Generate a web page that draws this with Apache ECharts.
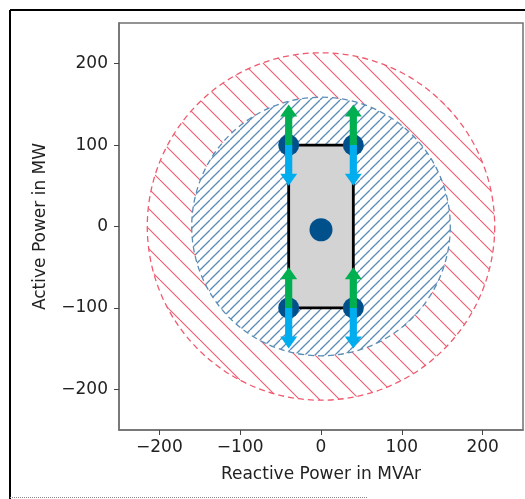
<!DOCTYPE html>
<html>
<head>
<meta charset="utf-8">
<script src="https://cdn.jsdelivr.net/npm/echarts@6/dist/echarts.min.js"></script>
<style>
  html, body { margin: 0; padding: 0; background: #fff; }
  #chart { width: 525px; height: 499px; }
</style>
</head>
<body>
<div id="chart"></div>
<script>
// axis ticks
const xTicks = [-200, -100, 0, 100, 200]
const yTicks = [-200, -100, 0, 100, 200]

// capability circles (radius in MVA)
const circleNames = ['outer', 'inner']
const circleRadii = [215, 160]

// operating box corners
const boxQ = [-40, 40, 40, -40]
const boxP = [-100, -100, 100, 100]

// flexibility points
const pointQ = [-40, 40, -40, 40]
const pointP = [100, 100, -100, -100]
const centerPoint = [0, -4]

// arrows: start Q, start P, delta P
const arrowUp = [[-40, 100, 50], [40, 100, 50], [-40, -100, 50], [40, -100, 50]]
const arrowDown = [[-40, 100, -50], [40, 100, -50], [-40, -100, -50], [40, -100, -50]]

function hatch (size, color, lw, dir) {
  let c = document.createElement('canvas')
  c.width = size
  c.height = size
  let ctx = c.getContext('2d')
  ctx.fillStyle = '#fff'
  ctx.fillRect(0, 0, size, size)
  ctx.strokeStyle = color
  ctx.lineWidth = lw
  for (let k of [-size, 0, size]) {
    ctx.beginPath()
    if (dir === 'back') {
      ctx.moveTo(k, 0)
      ctx.lineTo(k + size, size)
    } else {
      ctx.moveTo(k, size)
      ctx.lineTo(k + size, 0)
    }
    ctx.stroke()
  }
  return c
}

const circleStyles = [
  {stroke: '#ef5a6e', pattern: hatch(20, '#ef5a6e', 1.1, 'back')},
  {stroke: '#5b8cb6', pattern: hatch(10, '#5b8cb6', 1.3, 'fwd')}
]

function renderCircle (params, api) {
  let i = params.dataIndex
  let c = api.coord([0, 0])
  let r = api.size([circleRadii[i], 0])[0]
  return {
    type: 'circle',
    shape: {cx: c[0], cy: c[1], r: r},
    style: {
      fill: {image: circleStyles[i].pattern, repeat: 'repeat'},
      stroke: circleStyles[i].stroke,
      lineWidth: 1.3,
      lineDash: [6, 4]
    }
  }
}

function renderBox (params, api) {
  let pts = []
  for (let i = 0; i < boxQ.length; i++) {
    pts.push(api.coord([boxQ[i], boxP[i]]))
  }
  return {
    type: 'polygon',
    shape: {points: pts},
    style: {fill: '#d3d3d3', stroke: '#000', lineWidth: 2.8}
  }
}

function arrowRenderer (color) {
  return function (params, api) {
    let s = api.coord([api.value(0), api.value(1)])
    let e = api.coord([api.value(0), api.value(1) + api.value(2)])
    let dir = e[1] < s[1] ? -1 : 1
    let x = s[0]
    let hw = 3.6
    let headW = 8.5
    let headL = 12
    let base = e[1] - dir * headL
    return {
      type: 'polygon',
      shape: {
        points: [
          [x - hw, s[1]], [x - hw, base], [x - headW, base], [x, e[1]],
          [x + headW, base], [x + hw, base], [x + hw, s[1]]
        ]
      },
      style: {fill: color}
    }
  }
}

function fmt (v) {
  return String(v).replace('-', '\u2212')
}

let chart = echarts.init(document.getElementById('chart'))
let font = 'DejaVu Sans'
let option = {
  animation: false,
  textStyle: {fontFamily: font},
  grid: {
    left: 119, top: 23, right: 2, bottom: 69,
    show: true, borderColor: '#707070', borderWidth: 1.5
  },
  xAxis: {
    type: 'value',
    min: -250,
    max: 250,
    name: 'Reactive Power in MVAr',
    nameLocation: 'middle',
    nameGap: 36,
    nameTextStyle: {fontSize: 17, color: '#222', fontFamily: font},
    splitLine: {show: false},
    axisLine: {onZero: false, lineStyle: {color: '#707070', width: 1.5}},
    axisTick: {customValues: xTicks, length: 5, lineStyle: {color: '#444'}},
    axisLabel: {customValues: xTicks, formatter: fmt, fontSize: 17, color: '#222', margin: 9, fontFamily: font}
  },
  yAxis: {
    type: 'value',
    min: -250,
    max: 250,
    name: 'Active Power in MW',
    nameLocation: 'middle',
    nameGap: 70,
    nameTextStyle: {fontSize: 17, color: '#222', fontFamily: font},
    splitLine: {show: false},
    axisLine: {onZero: false, lineStyle: {color: '#707070', width: 1.5}},
    axisTick: {customValues: yTicks, length: 5, lineStyle: {color: '#444'}},
    axisLabel: {customValues: yTicks, formatter: fmt, fontSize: 17, color: '#222', margin: 11, fontFamily: font}
  },
  graphic: [
    {type: 'line', shape: {x1: 10, y1: 10, x2: 530, y2: 10}, style: {stroke: '#000', lineWidth: 2}},
    {type: 'line', shape: {x1: 10, y1: 10, x2: 10, y2: 499}, style: {stroke: '#000', lineWidth: 2}},
    {type: 'line', shape: {x1: 10, y1: 497.5, x2: 368, y2: 497.5}, style: {stroke: '#888', lineWidth: 1, lineDash: [1, 1]}}
  ],
  series: [
    {
      type: 'custom',
      name: 'circles',
      renderItem: renderCircle,
      data: circleNames.map((n, i) => [0, 0, circleRadii[i]]),
      clip: true,
      z: 1
    },
    {
      type: 'custom',
      name: 'box',
      renderItem: renderBox,
      data: [[0, 0]],
      z: 2
    },
    {
      type: 'scatter',
      name: 'points',
      symbolSize: 21,
      itemStyle: {color: '#00508c', opacity: 1},
      data: pointQ.map((q, i) => [q, pointP[i]]),
      z: 3
    },
    {
      type: 'scatter',
      name: 'center',
      symbolSize: 23,
      itemStyle: {color: '#00508c', opacity: 1},
      data: [centerPoint],
      z: 3
    },
    {
      type: 'custom',
      name: 'up',
      renderItem: arrowRenderer('#00b050'),
      data: arrowUp,
      z: 4
    },
    {
      type: 'custom',
      name: 'down',
      renderItem: arrowRenderer('#00aeef'),
      data: arrowDown,
      z: 4
    }
  ]
}
chart.setOption(option)
</script>
</body>
</html>
